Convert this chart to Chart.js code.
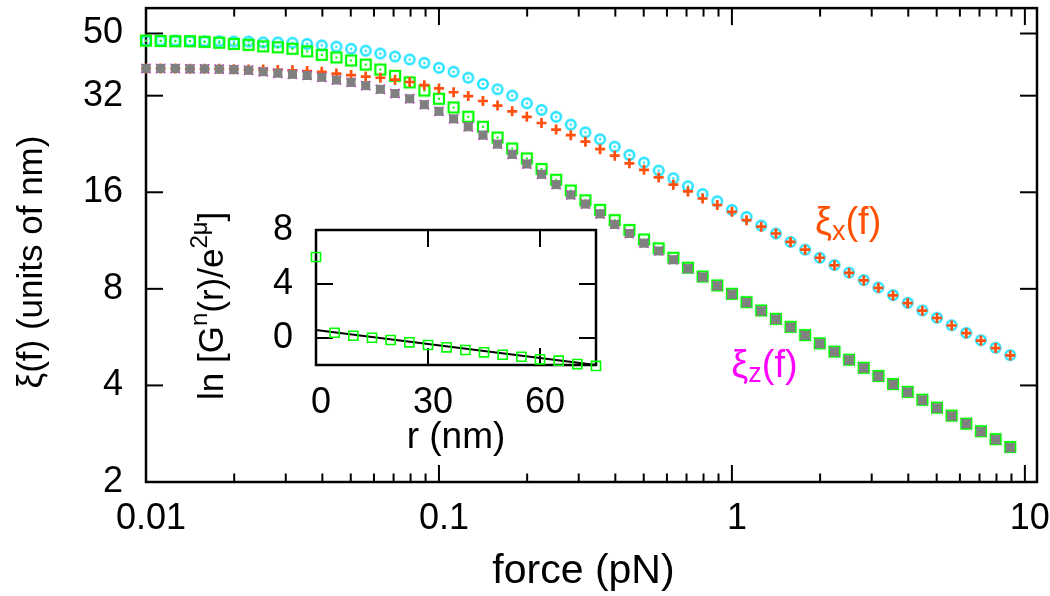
<!DOCTYPE html>
<html>
<head>
<meta charset="utf-8">
<script src="https://cdn.jsdelivr.net/npm/chart.js@4.4.1/dist/chart.umd.min.js"></script>
<style>
  html, body { margin: 0; padding: 0; background: #fff; }
  #wrap { position: relative; width: 1050px; height: 596px; }
  #main { position: absolute; left: 0; top: 0; }
  #inset { position: absolute; left: 160px; top: 200px; }
</style>
</head>
<body>
<div id="wrap">
  <canvas id="main" width="1050" height="596"></canvas>
  <canvas id="inset" width="470" height="280"></canvas>
</div>
<script>
// force values (pN), 20 points per decade
const force = [0.01, 0.01122, 0.01259, 0.01413, 0.01585, 0.01778, 0.01995, 0.02239, 0.02512, 0.02818,
  0.03162, 0.03548, 0.03981, 0.04467, 0.05012, 0.05623, 0.0631, 0.07079, 0.07943, 0.08913,
  0.1, 0.1122, 0.1259, 0.1413, 0.1585, 0.1778, 0.1995, 0.2239, 0.2512, 0.2818,
  0.3162, 0.3548, 0.3981, 0.4467, 0.5012, 0.5623, 0.631, 0.7079, 0.7943, 0.8913,
  1, 1.122, 1.259, 1.413, 1.585, 1.778, 1.995, 2.239, 2.512, 2.818,
  3.162, 3.548, 3.981, 4.467, 5.012, 5.623, 6.31, 7.079, 7.943, 8.913];

// xi_x : cyan circles and orange pluses
const xiXcircles = [47.5, 47.5, 47.5, 47.4, 47.3, 47.3, 47.2, 47.2, 46.9, 46.9,
  46.8, 46.4, 45.9, 45.5, 44.8, 44.2, 43.3, 42.4, 41.5, 40.5,
  39.1, 38.0, 36.4, 34.8, 33.5, 32.0, 30.3, 28.9, 27.5, 26.0,
  24.6, 23.4, 22.2, 20.9, 19.8, 18.7, 17.7, 16.7, 15.8, 15.0,
  14.1, 13.4, 12.6, 11.9, 11.2, 10.6, 10.0, 9.49, 8.99, 8.52,
  8.08, 7.65, 7.24, 6.85, 6.50, 6.16, 5.83, 5.53, 5.24, 4.97];
const xiXplus = [38.9, 38.9, 38.9, 38.8, 38.8, 38.8, 38.7, 38.6, 38.6, 38.5,
  38.4, 38.2, 38.0, 37.5, 37.1, 36.7, 36.4, 35.9, 35.3, 34.5,
  33.7, 32.8, 31.9, 30.8, 29.8, 28.6, 27.5, 26.3, 25.1, 24.1,
  23.0, 21.8, 20.8, 19.7, 18.8, 17.8, 16.9, 16.1, 15.3, 14.6,
  13.9, 13.1, 12.5, 11.9, 11.2, 10.6, 10.0, 9.47, 8.97, 8.50,
  8.06, 7.63, 7.22, 6.84, 6.49, 6.15, 5.82, 5.52, 5.23, 4.96];

// xi_z : green squares, grey filled squares (magenta crosses sit under the grey ones)
const xiZsquares = [47.5, 47.4, 47.3, 47.3, 47.1, 46.8, 46.4, 46.1, 45.6, 45.3,
  44.8, 44.0, 42.9, 42.1, 41.2, 40.0, 38.6, 36.9, 35.2, 33.2,
  31.3, 29.4, 27.5, 25.6, 23.7, 21.9, 20.4, 18.9, 17.5, 16.2,
  15.1, 14.1, 13.1, 12.2, 11.4, 10.7, 10.0, 9.31, 8.74, 8.20,
  7.72, 7.27, 6.85, 6.45, 6.09, 5.74, 5.41, 5.10, 4.81, 4.54,
  4.28, 4.04, 3.82, 3.61, 3.41, 3.22, 3.04, 2.88, 2.72, 2.57];
const xiZfilled = [38.9, 38.9, 38.9, 38.8, 38.8, 38.7, 38.6, 38.4, 38.0, 37.6,
  37.3, 37.0, 36.5, 35.8, 35.2, 34.4, 33.5, 32.5, 31.3, 30.0,
  28.6, 27.1, 25.6, 24.1, 22.6, 21.0, 19.6, 18.2, 16.9, 15.7,
  14.7, 13.7, 12.7, 11.9, 11.1, 10.5, 9.86, 9.25, 8.71, 8.18,
  7.70, 7.25, 6.83, 6.43, 6.07, 5.73, 5.40, 5.09, 4.80, 4.53,
  4.27, 4.03, 3.81, 3.60, 3.40, 3.21, 3.04, 2.87, 2.71, 2.56];
const xiZcross = xiZfilled;

const xTicks = [0.01, 0.1, 1, 10];
const yTicks = [2, 4, 8, 16, 32, 50];

// inset: ln[G^n(r)/e^2mu] vs r
const insetR = [0, 5, 10, 15, 20, 25, 30, 35, 40, 45, 50, 55, 60, 65, 70, 75];
const insetLnG = [6.0, 0.39, 0.17, 0.02, -0.15, -0.32, -0.52, -0.69, -0.89, -1.06, -1.24, -1.39, -1.58, -1.68, -1.93, -2.07];
const fitR = [0, 75];
const fitLnG = [0.6, -2.0];
const insetXTicks = [0, 30, 60];
const insetYTicks = [0, 4, 8];

const FONT = "'Liberation Sans', Arial, sans-serif";
const pts = (xs, ys) => xs.map((x, i) => ({x: x, y: ys[i]}));

function ringDot(color) {
  const c = document.createElement('canvas');
  c.width = c.height = 16;
  const g = c.getContext('2d');
  g.strokeStyle = color; g.fillStyle = color; g.lineWidth = 2.4;
  g.beginPath(); g.arc(8, 8, 4.8, 0, Math.PI * 2); g.stroke();
  g.beginPath(); g.arc(8, 8, 1.3, 0, Math.PI * 2); g.fill();
  return c;
}
function boxDot(color) {
  const c = document.createElement('canvas');
  c.width = c.height = 16;
  const g = c.getContext('2d');
  g.strokeStyle = color; g.fillStyle = color; g.lineWidth = 2.2;
  g.strokeRect(3, 3, 10, 10);
  g.fillRect(7, 7, 2, 2);
  return c;
}

// gnuplot-like frame with inward ticks
const frameTicks = {
  id: 'frameTicks',
  beforeDatasetsDraw(chart, args, o) {
    const {ctx, chartArea: a} = chart;
    const sx = chart.scales.x, sy = chart.scales.y;
    const seg = (x1, y1, x2, y2) => { ctx.beginPath(); ctx.moveTo(x1, y1); ctx.lineTo(x2, y2); ctx.stroke(); };
    ctx.save();
    ctx.strokeStyle = '#000';
    ctx.lineWidth = 2;
    o.xMajor.forEach(v => {
      const p = sx.getPixelForValue(v);
      seg(p, a.bottom, p, a.bottom - o.len); seg(p, a.top, p, a.top + o.len);
    });
    (o.xMinor || []).forEach(v => {
      const p = sx.getPixelForValue(v);
      seg(p, a.bottom, p, a.bottom - o.len / 2); seg(p, a.top, p, a.top + o.len / 2);
    });
    o.yMajor.forEach(v => {
      const p = sy.getPixelForValue(v);
      seg(a.left, p, a.left + o.len, p); seg(a.right, p, a.right - o.len, p);
    });
    ctx.lineWidth = 2.5;
    ctx.strokeRect(a.left, a.top, a.right - a.left, a.bottom - a.top);
    ctx.restore();
  }
};

const curveLabels = [
  {sub: 'x', f: 1.92, xi: 11.85, drop: 6, color: '#ff4f00'},
  {sub: 'z', f: 0.995, xi: 4.24, drop: 5, color: '#ff00ff'}
];
const mainTexts = {
  id: 'mainTexts',
  afterDatasetsDraw(chart) {
    const {ctx, chartArea: a} = chart;
    const sx = chart.scales.x, sy = chart.scales.y;
    ctx.save();
    ctx.textBaseline = 'alphabetic';
    curveLabels.forEach(l => {
      let px = sx.getPixelForValue(l.f);
      const py = sy.getPixelForValue(l.xi);
      ctx.fillStyle = l.color;
      ctx.font = '38px ' + FONT;
      ctx.fillText('ξ', px, py); px += ctx.measureText('ξ').width;
      ctx.font = '27px ' + FONT;
      ctx.fillText(l.sub, px, py + l.drop); px += ctx.measureText(l.sub).width;
      ctx.font = '38px ' + FONT;
      ctx.fillText('(f)', px, py);
    });
    // axis titles
    ctx.fillStyle = '#000';
    ctx.textAlign = 'center';
    ctx.font = '41px ' + FONT;
    ctx.fillText('force (pN)', (a.left + a.right) / 2 - 8, a.bottom + 101);
    ctx.translate(42, (a.top + a.bottom) / 2 + 17);
    ctx.rotate(-Math.PI / 2);
    ctx.font = '35px ' + FONT;
    ctx.fillText('ξ(f) (units of nm)', 0, 0);
    ctx.restore();
  }
};

const xMinor = [];
[0.01, 0.1, 1].forEach(d => { for (let m = 2; m <= 9; m++) xMinor.push(d * m); });

const tickFont = {family: FONT, size: 36};
const fitX = h => s => { s.height = h; s.paddingLeft = 0; s.paddingRight = 0; };
const fitY = w => s => { s.width = w; s.paddingTop = 0; s.paddingBottom = 0; };

new Chart(document.getElementById('main'), {
  type: 'scatter',
  data: {
    datasets: [
      {data: pts(force, xiZfilled), pointStyle: 'rect', pointRadius: 6.4, borderWidth: 0,
        backgroundColor: '#808080', borderColor: '#808080', clip: false, order: 1},
      {data: pts(force, xiZcross), pointStyle: 'crossRot', pointRadius: 6.5, borderWidth: 1.6,
        borderColor: '#ff00ff', clip: false, order: 2},
      {data: pts(force, xiXplus), pointStyle: 'cross', pointRadius: 5, borderWidth: 2.7,
        borderColor: '#ff5010', clip: false, order: 3},
      {data: pts(force, xiZsquares), pointStyle: boxDot('#00ff00'), pointRadius: 6,
        clip: false, order: 4},
      {data: pts(force, xiXcircles), pointStyle: ringDot('#22e2ff'), pointRadius: 6,
        clip: false, order: 5}
    ]
  },
  options: {
    responsive: false,
    animation: false,
    events: [],
    layout: {padding: {top: 1, right: 13, left: 0, bottom: 0}},
    plugins: {
      legend: {display: false},
      tooltip: {enabled: false},
      frameTicks: {xMajor: xTicks, xMinor: xMinor, yMajor: yTicks, len: 17}
    },
    scales: {
      x: {
        type: 'logarithmic', min: 0.01, max: 11,
        afterBuildTicks: s => { s.ticks = xTicks.map(v => ({value: v})); },
        afterFit: fitX(114),
        grid: {display: false, drawTicks: false},
        border: {display: false},
        ticks: {font: tickFont, color: '#000', padding: 15, labelOffset: 5, maxRotation: 0,
          autoSkip: false, callback: v => String(v)},
        title: {display: false}
      },
      y: {
        type: 'logarithmic', min: 2, max: 60,
        afterBuildTicks: s => { s.ticks = yTicks.map(v => ({value: v})); },
        afterFit: fitY(146),
        grid: {display: false, drawTicks: false},
        border: {display: false},
        ticks: {font: tickFont, color: '#000', padding: 23, autoSkip: false,
          callback: v => String(v)},
        title: {display: false}
      }
    }
  },
  plugins: [frameTicks, mainTexts]
});

const insetTitleParts = [['ln [G', 35, 0], ['n', 24, -16], ['(r)/e', 35, 0], ['2μ', 24, -16], [']', 35, 0]];
const insetYTitle = {
  id: 'insetYTitle',
  afterDraw(chart) {
    const {ctx, chartArea: a} = chart;
    ctx.save();
    ctx.translate(a.left - 93, a.bottom + 35);
    ctx.rotate(-Math.PI / 2);
    ctx.fillStyle = '#000';
    ctx.textBaseline = 'alphabetic';
    let x = 0;
    insetTitleParts.forEach(([t, size, rise]) => {
      ctx.font = size + 'px ' + FONT;
      ctx.fillText(t, x, rise);
      x += ctx.measureText(t).width;
    });
    ctx.restore();
  }
};

new Chart(document.getElementById('inset'), {
  type: 'scatter',
  data: {
    datasets: [
      {data: pts(insetR, insetLnG), pointStyle: 'rect', pointRadius: 6.4, borderWidth: 1.6,
        borderColor: '#00ff00', backgroundColor: 'rgba(0,0,0,0)', clip: false, order: 1},
      {data: pts(fitR, fitLnG), showLine: true, borderColor: '#000', borderWidth: 2,
        pointRadius: 0, clip: false, order: 2}
    ]
  },
  options: {
    responsive: false,
    animation: false,
    events: [],
    layout: {padding: {top: 30, right: 34, left: 0, bottom: 0}},
    plugins: {
      legend: {display: false},
      tooltip: {enabled: false},
      frameTicks: {xMajor: insetXTicks, yMajor: insetYTicks, len: 17}
    },
    scales: {
      x: {
        type: 'linear', min: 0, max: 75,
        afterBuildTicks: s => { s.ticks = insetXTicks.map(v => ({value: v})); },
        afterFit: fitX(115),
        grid: {display: false, drawTicks: false},
        border: {display: false},
        ticks: {font: tickFont, color: '#000', padding: 16, labelOffset: 5, maxRotation: 0, autoSkip: false},
        title: {display: true, text: 'r (nm)', font: {family: FONT, size: 37}, color: '#000',
          padding: {top: 0, bottom: 20}}
      },
      y: {
        type: 'linear', min: -2, max: 8,
        afterBuildTicks: s => { s.ticks = insetYTicks.map(v => ({value: v})); },
        afterFit: fitY(156),
        grid: {display: false, drawTicks: false},
        border: {display: false},
        ticks: {font: tickFont, color: '#000', padding: 23, autoSkip: false}
      }
    }
  },
  plugins: [frameTicks, insetYTitle]
});
</script>
</body>
</html>
